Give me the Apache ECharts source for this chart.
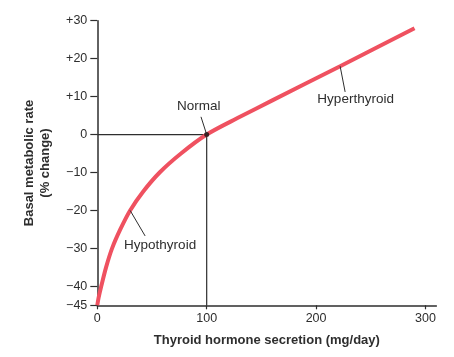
<!DOCTYPE html>
<html><head><meta charset="utf-8">
<script src="https://cdn.jsdelivr.net/npm/echarts@6/dist/echarts.min.js"></script>
<style>html,body{margin:0;padding:0;background:#fff}#c{width:454px;height:357px}</style>
</head><body><div id="c"></div>
<script>
// ---- data ----
const secretion = [0, 1.2, 3.6, 8, 13.5, 21, 30, 42, 57, 76.5, 100, 130, 160, 222, 290];
const bmrChange = [-45, -43, -40, -35, -30, -25, -20, -15, -10, -5, 0, 4.6, 9.0, 18, 28];
const xTicks = [0, 100, 200, 300];
const yTicks = [-45, -40, -30, -20, -10, 0, 10, 20, 30];
const normalX = [0, 100, 100];
const normalY = [0, 0, -45];
const annotationText = ['Normal', 'Hypothyroid', 'Hyperthyroid'];
const annotationX = [100, 30, 222];
const annotationY = [0, -20, 18];
const xTitle = 'Thyroid hormone secretion (mg/day)';
const yTitle = 'Basal metabolic rate\n(% change)';

// ---- layout (pixel offsets of label text / leader end from anchor) ----
const annLayout = [
  {lx: -5.7, ly: -17.7, tx: -8, ty: -28},
  {lx: 15, ly: 25.5, tx: 30, ty: 35},
  {lx: 5, ly: 25.7, tx: 15.5, ty: 32.7}
];

const dark = '#2e2e2e';
const curveColor = '#ef5160';
const font = '"Liberation Sans", Arial, Helvetica, sans-serif';

const chart = echarts.init(document.getElementById('c'), null, {renderer: 'canvas'});
const fmtY = v => v > 0 ? '+' + v : (v < 0 ? '\u2212' + (-v) : '0');

chart.setOption({
  animation: false,
  backgroundColor: '#fff',
  grid: {left: 97.3, right: 17.6, top: 20.7, bottom: 51.7, containLabel: false},
  xAxis: {
    type: 'value', min: 0, max: 310,
    name: xTitle, nameLocation: 'middle', nameGap: 29,
    nameTextStyle: {fontFamily: font, fontWeight: 'bold', fontSize: 13, color: dark},
    axisLine: {show: true, onZero: false, lineStyle: {color: dark, width: 1.5}},
    axisTick: {show: true, length: 4, customValues: xTicks, lineStyle: {color: dark, width: 1.2}},
    axisLabel: {customValues: xTicks, margin: 7, fontFamily: font, fontSize: 12.5, color: dark},
    splitLine: {show: false}
  },
  yAxis: {
    type: 'value', min: -45, max: 30,
    name: yTitle, nameLocation: 'middle', nameGap: 44, nameRotate: 90,
    nameTextStyle: {fontFamily: font, fontWeight: 'bold', fontSize: 13, color: dark, lineHeight: 16, align: 'center'},
    axisLine: {show: true, onZero: false, lineStyle: {color: dark, width: 1.5}},
    axisTick: {show: true, length: 7, customValues: yTicks, lineStyle: {color: dark, width: 1.2}},
    axisLabel: {customValues: yTicks, margin: 10, formatter: fmtY, fontFamily: font, fontSize: 12.5, color: dark},
    splitLine: {show: false}
  },
  series: [
    {
      type: 'line', data: normalX.map((x, i) => [x, normalY[i]]),
      symbol: 'none', lineStyle: {color: dark, width: 1.2}, z: 1, silent: true
    },
    {
      type: 'line', data: secretion.map((x, i) => [x, bmrChange[i]]),
      smooth: 0.3, symbol: 'none',
      lineStyle: {color: curveColor, width: 4}, z: 2
    },
    {
      type: 'scatter', data: [[annotationX[0], annotationY[0]]],
      symbolSize: 5, itemStyle: {color: '#111'}, z: 5
    }
  ]
});

const graphics = [];
annotationText.forEach((t, i) => {
  const p = chart.convertToPixel({gridIndex: 0}, [annotationX[i], annotationY[i]]);
  const L = annLayout[i];
  graphics.push({
    type: 'line', z: 10,
    shape: {x1: p[0], y1: p[1], x2: p[0] + L.lx, y2: p[1] + L.ly},
    style: {stroke: dark, lineWidth: 1}
  });
  graphics.push({
    type: 'text', z: 10,
    x: p[0] + L.tx, y: p[1] + L.ty,
    style: {text: t, fill: dark, font: '13.5px ' + font, align: 'center', verticalAlign: 'middle'}
  });
});
chart.setOption({graphic: graphics});
</script>
</body></html>
